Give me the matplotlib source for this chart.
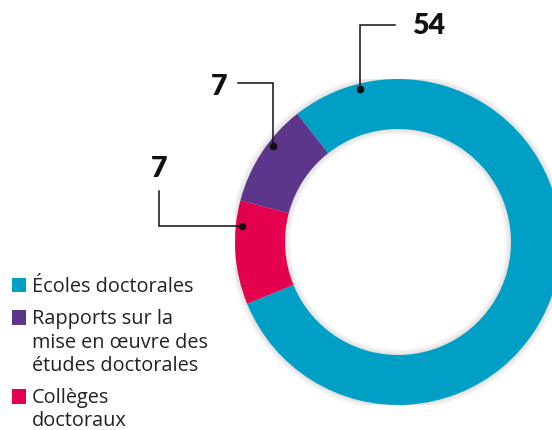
import matplotlib

matplotlib.use("Agg")
import matplotlib.pyplot as plt
import numpy as np
from matplotlib.patches import Rectangle, Wedge

# data
labels = ["Écoles doctorales",
          "Rapports sur la\nmise en œuvre des\nétudes doctorales",
          "Collèges\ndoctoraux"]
values = [54, 7, 7]
colors = ["#00A0C6", "#5B368B", "#E2004F"]

TEXT = "#222222"
W, H = 552, 430
CX, CY, R = 398, 242, 163          # ring centre / outer radius in pixels
RING_W = 50

fig = plt.figure(figsize=(W / 100, H / 100), dpi=100)

ax = fig.add_axes([(CX - R) / W, (H - CY - R) / H, 2 * R / W, 2 * R / H])

# soft shadow around the ring
for k in range(6):
    ax.add_patch(Wedge((0, 0), 1 + (k + 1) * 0.006, 0, 360,
                       width=(RING_W / R) + 2 * (k + 1) * 0.006,
                       facecolor="#000000", alpha=0.018, lw=0))

wedges, _ = ax.pie(values, colors=colors, startangle=202.3, counterclock=True,
                   radius=1, wedgeprops=dict(width=RING_W / R, edgecolor="none"))
ax.set_xlim(-1, 1)
ax.set_ylim(-1, 1)
ax.set_aspect("equal")
ax.axis("off")

# overlay in pixel coords
ov = fig.add_axes([0, 0, 1, 1])
ov.set_xlim(0, W)
ov.set_ylim(H, 0)
ov.axis("off")
ov.patch.set_alpha(0)

# leader lines: dot angle, elbow, label anchor
dot_angles = [104, 142.4, 174]
r_dot = 0.965 * R
leaders = [
    ("v", (395, 24.5), (412, 26), "left"),
    ("v", (238, 82.7), (228, 87), "right"),
    ("h", (159.3, 190.7), (159.3, 169), "center"),
]
for v, ang, (kind, end, tpos, ha) in zip(values, dot_angles, leaders):
    a = np.deg2rad(ang)
    dx, dy = CX + r_dot * np.cos(a), CY - r_dot * np.sin(a)
    if kind == "v":
        xs, ys = [dx, dx, end[0]], [dy, end[1], end[1]]
    else:
        xs, ys = [dx, end[0], end[0]], [dy, dy, end[1]]
    ov.plot(xs, ys, color="#111111", lw=1.1, solid_joinstyle="miter")
    ov.plot(dx, dy, "o", color="#111111", ms=4.5)
    ov.text(tpos[0], tpos[1], str(v), ha=ha, va="center", fontsize=20.5,
            fontweight="heavy", family="Lato", color="#111111")

# legend
first_base = [291.7, 324.3, 403.3]
line_h = 23.2
for lab, col, base in zip(labels, colors, first_base):
    ov.add_patch(Rectangle((11.7, base - 14.0), 14.3, 14.3, facecolor=col, lw=0))
    for i, line in enumerate(lab.split("\n")):
        ov.text(32, base + i * line_h, line, ha="left", va="baseline",
                fontsize=14.3, family="Open Sans", color=TEXT)

fig.savefig("out.png", dpi=100)
